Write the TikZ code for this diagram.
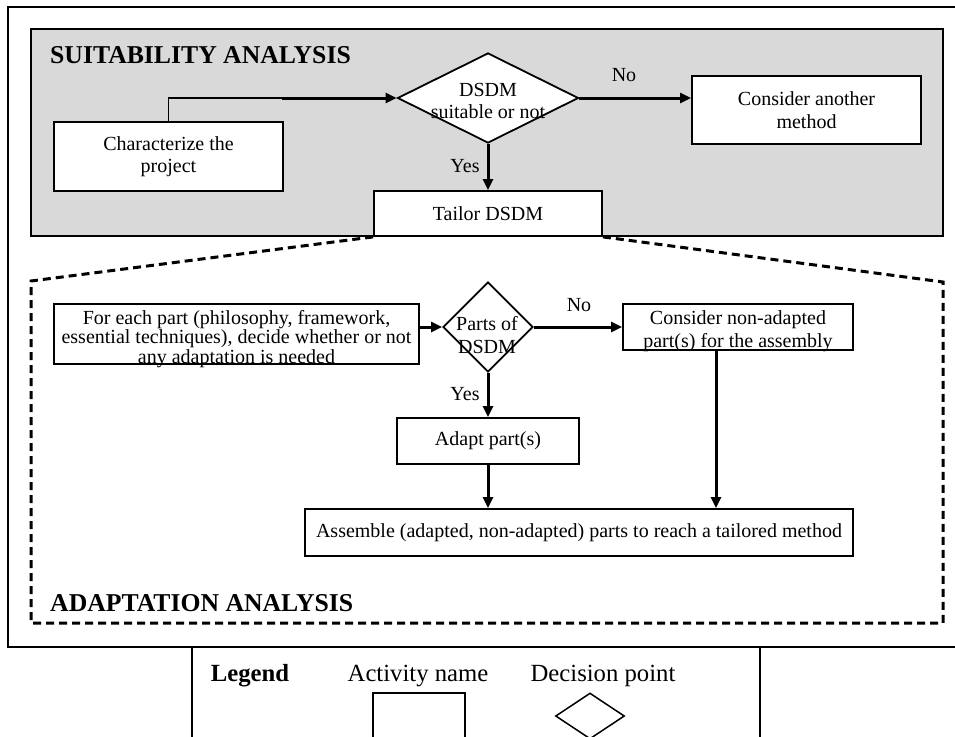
\documentclass[tikz,border=0pt]{standalone}
\usepackage{fontspec}
\setmainfont{Liberation Serif}
\usetikzlibrary{arrows.meta,shapes.geometric}
\begin{document}
\begin{tikzpicture}[x=1pt,y=-1pt,
  txt/.style={font=\fontsize{20}{22.5}\selectfont},
  actbox/.style={draw, line width=1.8pt, fill=white, inner sep=0pt, align=center, txt},
  decis/.style={draw, diamond, line width=1.8pt, fill=white, inner sep=0pt},
  flow/.style={line width=3pt, -{Triangle[length=11pt,width=10pt]}},
  lbl/.style={txt, inner sep=0pt, align=center},
  ttl/.style={font=\fontsize{25.7}{28}\selectfont\bfseries, inner sep=0pt, anchor=west},
  legtxt/.style={font=\fontsize{24.7}{28}\selectfont, inner sep=0pt, anchor=base},
  zone/.style={line width=3pt, dash pattern=on 8pt off 5pt}
]
\useasboundingbox (0,0) rectangle (955,736);

% outer frame and legend frame
\draw[line width=1.3pt] (8,7) rectangle (965,647);
\draw[line width=1.3pt] (192,647) rectangle (760,745);

% suitability zone
\draw[line width=2pt, fill=black!15] (31,29) rectangle (943,236);
\node[ttl] (t1) at (50,55) {SUITABILITY ANALYSIS};

\node[actbox, minimum width=229pt, minimum height=69pt] (char) at (168.5,156.5) {Characterize the\\project};
\node[decis, minimum width=181pt, minimum height=90pt] (d1) at (488,98) {};
\node[lbl] (d1t) at (488,101) {DSDM\\suitable or not};
\node[actbox, minimum width=229pt, minimum height=68pt] (cons) at (806.5,110) {Consider another\\method};
\node[actbox, minimum width=228pt, minimum height=45pt] (tailor) at (488,213.5) {Tailor DSDM};

\coordinate (bend) at (282,98);
\draw[line width=1.3pt] (char.north) |- (bend);
\draw[flow] (bend) -- (d1.west);
\draw[flow] (d1.east) -- (d1.east -| cons.west);
\draw[flow] (d1.south) -- (tailor.north);
\node[lbl] (no1) at (624,75) {No};
\node[lbl] (yes1) at (465,166) {Yes};

% adaptation zone
\draw[zone] (tailor.south west) -- (31,281) -- (31,623) -- (943,623) -- (943,282) -- (tailor.south east);
\node[ttl] (t2) at (50,603.5) {ADAPTATION ANALYSIS};

\node[actbox, minimum width=365pt, minimum height=60pt] (each) at (236.5,334) {};
\node[lbl, font=\fontsize{20}{19.5}\selectfont] (eacht) at (236.5,339)
  {For each part (philosophy, framework,\\essential techniques), decide whether or not\\any adaptation is needed};
\node[decis, minimum width=90pt, minimum height=90pt] (d2) at (488,327) {};
\node[lbl] (d2t) at (487,335) {Parts of\\DSDM};
\node[actbox, minimum width=230pt, minimum height=46pt] (consnon) at (738,327) {};
\node[lbl] (consnont) at (738,331) {Consider non-adapted\\part(s) for the assembly};
\node[actbox, minimum width=182pt, minimum height=46pt] (adapt) at (488,441) {Adapt part(s)};
\node[actbox, minimum width=548pt, minimum height=47pt] (assem) at (579,532.5) {Assemble (adapted, non-adapted) parts to reach a tailored method};

\draw[flow] (d2.west -| each.east) -- (d2.west);
\draw[flow] (d2.east) -- (consnon.west);
\draw[flow] (d2.south) -- (adapt.north);
\draw[flow] (adapt.south) -- (adapt.south |- assem.north);
\draw[flow] ([xshift=-22pt]consnon.south) -- ([xshift=-22pt]consnon.south |- assem.north);
\node[lbl] (no2) at (579,305) {No};
\node[lbl] (yes2) at (465,394) {Yes};

% legend
\node[legtxt, font=\fontsize{24.7}{28}\selectfont\bfseries] (leg) at (250,681) {Legend};
\node[legtxt] (acttxt) at (418,681) {Activity name};
\node[legtxt] (dectxt) at (603,681) {Decision point};
\node[draw, line width=1.5pt, inner sep=0pt, minimum width=92pt, minimum height=56pt] (legbox) at (419,721) {};
\node[draw, diamond, line width=1.5pt, inner sep=0pt, minimum width=69pt, minimum height=46pt] (legdia) at (590,716) {};
\end{tikzpicture}
\end{document}
